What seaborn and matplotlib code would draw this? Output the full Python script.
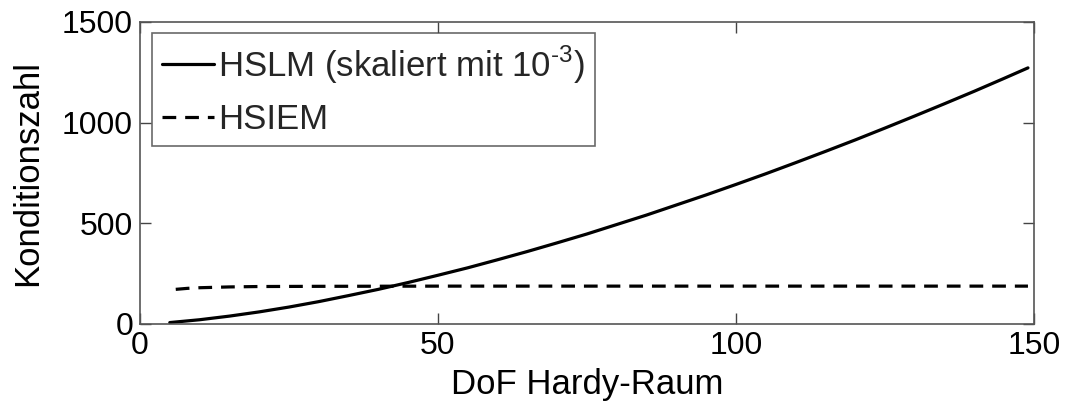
import matplotlib
matplotlib.use("Agg")
import matplotlib.pyplot as plt
import seaborn as sns
import pandas as pd

# Degrees of freedom of the Hardy space and the condition numbers
dof_hslm = [5, 10, 15, 20, 25, 30, 35, 40, 45, 50, 55, 60, 65, 70, 75, 80,
            85, 90, 95, 100, 105, 110, 115, 120, 125, 130, 135, 140, 145, 149]
cond_hslm = [7, 21, 39, 60, 84, 111, 141, 172, 206, 242, 279, 319, 360, 403,
             447, 494, 541, 591, 641, 693, 746, 801, 857, 914, 973, 1033, 1094,
             1156, 1220, 1272]

dof_hsiem = [6, 8, 10, 15, 20, 30, 50, 75, 100, 125, 149]
cond_hsiem = [172, 177, 180, 184, 186, 187, 188, 188, 188, 188, 188]

label_hslm = r"HSLM (skaliert mit 10$^{\text{-3}}$)"
label_hsiem = "HSIEM"

sns.set_theme(style="white")
plt.rcParams["font.family"] = ["Liberation Sans", "DejaVu Sans"]
plt.rcParams["mathtext.fontset"] = "custom"
plt.rcParams["mathtext.rm"] = "Liberation Sans"

df_hslm = pd.DataFrame({"dof": dof_hslm, "cond": cond_hslm})
df_hsiem = pd.DataFrame({"dof": dof_hsiem, "cond": cond_hsiem})

fig = plt.figure(figsize=(10.67, 4.07), dpi=100)
ax = fig.add_axes([0.1312, 0.204, 0.8378, 0.742])

sns.lineplot(data=df_hslm, x="dof", y="cond", ax=ax, color="black",
             linewidth=2.3, label=label_hslm)
sns.lineplot(data=df_hsiem, x="dof", y="cond", ax=ax, color="black",
             linewidth=2.3, linestyle=(0, (4.3, 2.8)), label=label_hsiem)

ax.set_xlim(0, 150)
ax.set_ylim(0, 1500)
ax.set_xticks([0, 50, 100, 150])
ax.set_yticks([0, 500, 1000, 1500])
ax.set_xlabel("DoF Hardy-Raum", fontsize=25, color="black", labelpad=5)
ax.set_ylabel("Konditionszahl", fontsize=25, color="black", labelpad=13)
ax.tick_params(axis="both", which="major", direction="in", length=8,
               width=1, color="#444444", labelsize=23, labelcolor="black",
               top=True, right=True, bottom=True, left=True, pad=5)
for spine in ax.spines.values():
    spine.set_color("#555555")
    spine.set_linewidth(1.2)
    spine.set_visible(True)

leg = ax.legend(loc="upper left", bbox_to_anchor=(0.0134, 0.9636),
                borderaxespad=0, fontsize=25, frameon=True, fancybox=False,
                handlelength=1.5, handletextpad=0.1, labelspacing=0.5,
                borderpad=0.3)
leg.get_frame().set_edgecolor("#444444")
leg.get_frame().set_linewidth(1.2)

fig.savefig("out.png", dpi=100, facecolor="white")
